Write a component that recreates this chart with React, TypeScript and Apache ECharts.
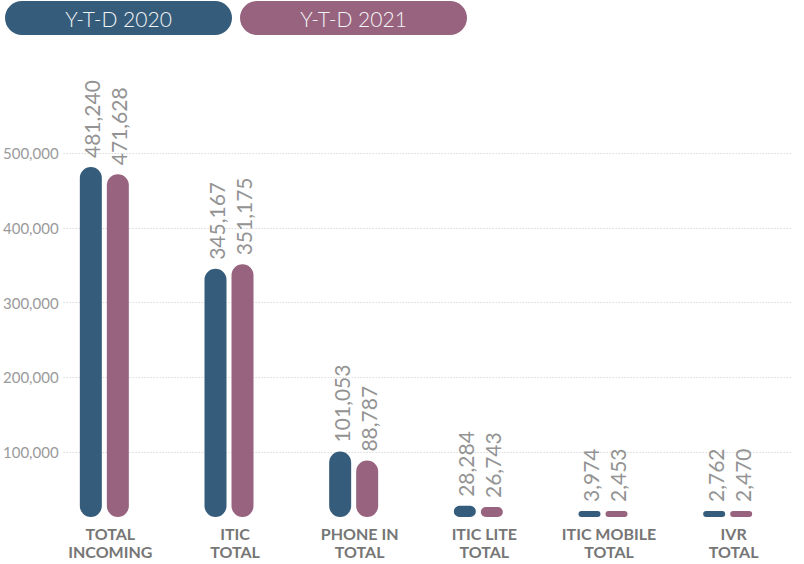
import React, { useEffect, useRef } from 'react';
import * as echarts from 'echarts';

const categories = ['TOTAL\nINCOMING', 'ITIC\nTOTAL', 'PHONE IN\nTOTAL', 'ITIC LITE\nTOTAL', 'ITIC MOBILE\nTOTAL', 'IVR\nTOTAL'];
const seriesNames = ['Y-T-D 2020', 'Y-T-D 2021'];
const ytd2020 = [481240, 345167, 101053, 28284, 3974, 2762];
const ytd2021 = [471628, 351175, 88787, 26743, 2453, 2470];
const yMin = 0;
const yMax = 500000;
const yInterval = 100000;

const BLUE = '#365c7b';
const PINK = '#98637f';
const FONT = 'Lato, "Noto Sans", sans-serif';

const fmt = (v: number) => v.toLocaleString('en-US');

function makeRender(color: string, offset: number) {
  return (params: any, api: any) => {
    const idx = api.value(0);
    const v = api.value(1);
    const pt = api.coord([idx, v]);
    const cx = pt[0] + offset;
    const base = api.coord([idx, 0])[1] - 10;
    const top = Math.min(pt[1], base - 6);
    const h = base - top;
    const w = 22;
    return {
      type: 'group',
      children: [
        {
          type: 'rect',
          shape: { x: cx - w / 2, y: top, width: w, height: h, r: Math.min(w / 2, h / 2) },
          style: { fill: color },
        },
        {
          type: 'text',
          x: cx + 1,
          y: top - 9,
          rotation: Math.PI / 2,
          style: {
            text: fmt(v),
            align: 'left',
            verticalAlign: 'middle',
            fill: '#939393',
            fontSize: 21,
            fontWeight: 'normal',
            fontFamily: FONT,
          },
        },
      ],
    };
  };
}

export default function App() {
  const ref = useRef<HTMLDivElement>(null);
  useEffect(() => {
    if (!ref.current) return;
    const chart = echarts.init(ref.current, undefined, { renderer: 'svg' });
    const d2020 = ytd2020.map((v, i) => [i, v]);
    const d2021 = ytd2021.map((v, i) => [i, v]);
    chart.setOption({
      animation: false,
      backgroundColor: '#ffffff',
      grid: [
        { left: 53, right: 12, top: 153, bottom: 37 },
        { left: 42, right: 14, top: 153, bottom: 37 },
      ],
      xAxis: [
        { type: 'category', gridIndex: 0, data: categories, show: false },
        {
          type: 'category',
          gridIndex: 1,
          data: categories,
          axisLine: { show: false },
          axisTick: { show: false },
          axisLabel: {
            margin: -3,
            color: '#767676',
            fontFamily: FONT,
            fontWeight: 'bold',
            fontSize: 16,
            lineHeight: 18,
            padding: [0, 0, 0, 12],
            interval: 0,
          },
        },
      ],
      yAxis: [
        {
          type: 'value',
          gridIndex: 0,
          min: yMin,
          max: yMax,
          interval: yInterval,
          axisLine: { show: false },
          axisTick: { show: false },
          axisLabel: {
            showMinLabel: false,
            margin: 5,
            color: '#9a9a9a',
            fontFamily: FONT,
            fontSize: 15,
            padding: [0, 0, 4, 0],
            formatter: (v: number) => fmt(v),
          },
          splitLine: {
            showMinLine: false,
            lineStyle: { color: '#c8c8c8', type: [1, 2], width: 1 },
          },
        },
        {
          type: 'value',
          gridIndex: 1,
          min: yMin,
          max: yMax,
          interval: yInterval,
          show: false,
          splitLine: { show: false },
        },
      ],
      graphic: [
        { type: 'rect', shape: { x: 5, y: 1, width: 227, height: 34, r: 17 }, style: { fill: BLUE } },
        {
          type: 'text', x: 118.5, y: 18,
          style: { text: seriesNames[0], align: 'center', verticalAlign: 'middle', fill: '#f4f4f4', fontSize: 21, fontWeight: 300, fontFamily: FONT },
        },
        { type: 'rect', shape: { x: 240, y: 1, width: 227, height: 34, r: 17 }, style: { fill: PINK } },
        {
          type: 'text', x: 353.5, y: 18,
          style: { text: seriesNames[1], align: 'center', verticalAlign: 'middle', fill: '#f4f4f4', fontSize: 21, fontWeight: 300, fontFamily: FONT },
        },
      ],
      series: [
        {
          name: seriesNames[0],
          type: 'custom',
          xAxisIndex: 1,
          yAxisIndex: 1,
          clip: false,
          encode: { x: 0, y: 1 },
          data: d2020,
          renderItem: makeRender(BLUE, -13.5),
        },
        {
          name: seriesNames[1],
          type: 'custom',
          xAxisIndex: 1,
          yAxisIndex: 1,
          clip: false,
          encode: { x: 0, y: 1 },
          data: d2021,
          renderItem: makeRender(PINK, 13.5),
        },
      ],
    });
    return () => chart.dispose();
  }, []);
  return <div ref={ref} style={{ position: 'fixed', left: 0, top: 0, width: 804, height: 564 }} />;
}
